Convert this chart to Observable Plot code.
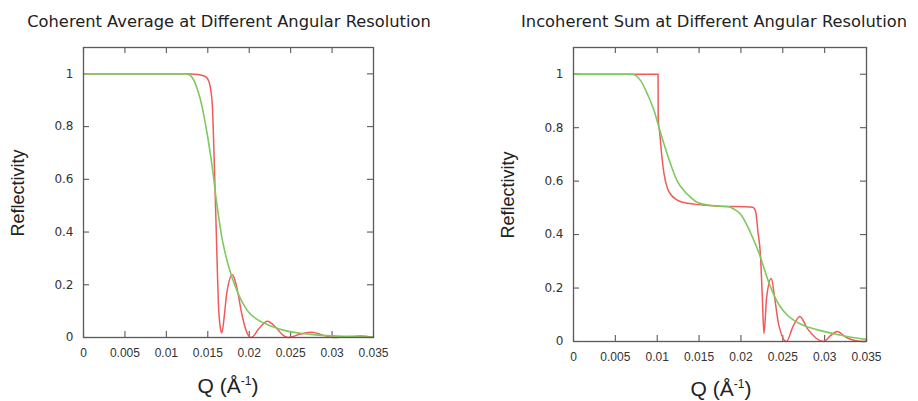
<!DOCTYPE html>
<html>
<head>
<meta charset="utf-8">
<script src="https://cdn.jsdelivr.net/npm/d3@7"></script>
<script src="https://cdn.jsdelivr.net/npm/@observablehq/plot@0.6"></script>
<style>
  html, body { margin: 0; padding: 0; background: #fff; }
  #root { position: relative; width: 918px; height: 401px; background: #fff; overflow: hidden; }
  .panel { position: absolute; top: 0; }
  .title { position: absolute; transform: translate(-50%, -50%); white-space: nowrap;
           font-family: "DejaVu Sans", sans-serif; font-size: 16.3px; color: #222; }
  .ylab { position: absolute; transform: translate(-50%, -50%) rotate(-90deg); white-space: nowrap;
          font-family: "Liberation Sans", Arial, sans-serif; font-size: 18px; color: #222; }
  .xlab { position: absolute; transform: translate(-50%, -50%); white-space: nowrap;
          font-family: "Liberation Sans", Arial, sans-serif; font-size: 21px; color: #222; }
  .xlab sup { font-size: 12px; vertical-align: 8px; }
</style>
</head>
<body>
<div id="root">
  <div class="title" style="left:229px; top:21px;">Coherent Average at Different Angular Resolution</div>
  <div class="title" style="left:714px; top:21px;">Incoherent Sum at Different Angular Resolution</div>
  <div class="ylab" style="left:18px; top:193px;">Reflectivity</div>
  <div class="ylab" style="left:508px; top:195px;">Reflectivity</div>
  <div class="xlab" style="left:228px; top:386px;">Q (Å<sup>-1</sup>)</div>
  <div class="xlab" style="left:721px; top:389px;">Q (Å<sup>-1</sup>)</div>
  <div id="left" class="panel" style="left:0px;"></div>
  <div id="right" class="panel" style="left:459px;"></div>
</div>
<script>
// ---- tick values ----
const xTicks = [0, 0.005, 0.01, 0.015, 0.02, 0.025, 0.03, 0.035];
const yTicks = [0, 0.2, 0.4, 0.6, 0.8, 1];

// ---- Coherent average (left) ----
const cohRedQ = [0, 0.0121, 0.0138, 0.0147, 0.01515, 0.0154, 0.01555, 0.01573, 0.01585, 0.01598, 0.01614, 0.01628, 0.0165, 0.0167, 0.01695, 0.0173, 0.01798, 0.0185, 0.0191, 0.0197, 0.02024, 0.0212, 0.0222, 0.0233, 0.0241, 0.02474, 0.0262, 0.02757, 0.0288, 0.03017, 0.0318, 0.0334, 0.035];
const cohRedR = [1, 1, 0.998, 0.99, 0.97, 0.93, 0.88, 0.72, 0.59, 0.45, 0.27, 0.13, 0.04, 0.017, 0.07, 0.17, 0.238, 0.19, 0.09, 0.02, 0, 0.035, 0.062, 0.035, 0.008, 0, 0.013, 0.02, 0.01, 0, 0.004, 0.006, 0.001];
const cohGreenQ = [0, 0.0125, 0.01333, 0.0137, 0.01413, 0.01454, 0.01494, 0.01534, 0.01573, 0.01593, 0.0163, 0.0167, 0.0171, 0.0177, 0.0183, 0.0189, 0.0195, 0.0201, 0.0211, 0.0221, 0.0231, 0.0241, 0.0262, 0.028, 0.0301, 0.0325, 0.035];
const cohGreenR = [1, 1, 0.975, 0.945, 0.9, 0.84, 0.77, 0.69, 0.6, 0.545, 0.46, 0.38, 0.32, 0.25, 0.195, 0.15, 0.115, 0.09, 0.066, 0.05, 0.038, 0.028, 0.016, 0.01, 0.006, 0.003, 0.002];

// ---- Incoherent sum (right) ----
const incRedQ = [0, 0.0101, 0.01012, 0.0103, 0.0105, 0.0108, 0.0112, 0.0116, 0.0124, 0.0132, 0.0144, 0.0156, 0.0172, 0.0188, 0.0204, 0.0214, 0.02165, 0.0218, 0.022, 0.02235, 0.02255, 0.02275, 0.02307, 0.02363, 0.024, 0.0245, 0.02545, 0.0262, 0.02705, 0.0279, 0.0299, 0.0307, 0.0315, 0.0326, 0.0346, 0.035];
const incRedR = [1, 1, 0.83, 0.78, 0.71, 0.63, 0.575, 0.551, 0.529, 0.52, 0.514, 0.51, 0.506, 0.505, 0.504, 0.502, 0.495, 0.48, 0.42, 0.314, 0.17, 0.03, 0.165, 0.236, 0.17, 0.065, 0, 0.055, 0.094, 0.05, 0, 0.022, 0.037, 0.015, 0, 0.002];
const incGreenQ = [0, 0.007, 0.00804, 0.00884, 0.00963, 0.01022, 0.01082, 0.01161, 0.0124, 0.0132, 0.014, 0.0148, 0.016, 0.0172, 0.0184, 0.0192, 0.01997, 0.02076, 0.02156, 0.02235, 0.0229, 0.0234, 0.024, 0.0247, 0.0255, 0.0263, 0.0275, 0.0287, 0.03, 0.0315, 0.033, 0.035];
const incGreenR = [1, 1, 0.975, 0.925, 0.863, 0.8, 0.738, 0.663, 0.6, 0.564, 0.539, 0.52, 0.511, 0.507, 0.505, 0.495, 0.476, 0.433, 0.377, 0.314, 0.26, 0.215, 0.17, 0.13, 0.1, 0.08, 0.06, 0.048, 0.037, 0.026, 0.017, 0.008];

const RED = "#ef5b5b";
const GREEN = "#7fc95f";
const FRAME = "#5a5a5a";

function pts(qs, rs) { return qs.map((q, i) => ({q, r: rs[i]})); }

function panel({width, height, mt, mb, ml, mr, red, green}) {
  const innerW = width - ml - mr;
  const innerH = height - mt - mb;
  return Plot.plot({
    width, height,
    marginTop: mt, marginBottom: mb, marginLeft: ml, marginRight: mr,
    style: {background: "transparent", fontFamily: "DejaVu Sans, sans-serif", fontSize: "12px", color: "#333"},
    x: {domain: [0, 0.035]},
    y: {domain: [0, 1.1]},
    marks: [
      Plot.ruleX(xTicks, {insetTop: innerH - 6, stroke: FRAME, strokeWidth: 1.1}),
      Plot.ruleX(xTicks, {insetBottom: innerH - 6, stroke: FRAME, strokeWidth: 1.1}),
      Plot.ruleY(yTicks, {insetRight: innerW - 6, stroke: FRAME, strokeWidth: 1.1}),
      Plot.ruleY(yTicks, {insetLeft: innerW - 6, stroke: FRAME, strokeWidth: 1.1}),
      Plot.line(red, {x: "q", y: "r", curve: "monotone-x", stroke: RED, strokeWidth: 1.5}),
      Plot.line(green, {x: "q", y: "r", curve: "monotone-x", stroke: GREEN, strokeWidth: 1.6}),
      Plot.frame({stroke: FRAME, strokeWidth: 1.3}),
      Plot.axisX({ticks: xTicks, tickFormat: d => String(d), tickSize: 0, tickPadding: 11, label: null,
                  fontFamily: "Liberation Sans, Arial, sans-serif", fontSize: 12, fill: "#333"}),
      Plot.axisY({ticks: yTicks, tickFormat: d => String(d), tickSize: 0, tickPadding: 10, label: null,
                  fontFamily: "DejaVu Sans, sans-serif", fontSize: 12, fill: "#333"})
    ]
  });
}

document.getElementById("left").append(panel({
  width: 459, height: 401, mt: 47, mb: 64, ml: 83, mr: 86,
  red: pts(cohRedQ, cohRedR), green: pts(cohGreenQ, cohGreenR)
}));
document.getElementById("right").append(panel({
  width: 459, height: 401, mt: 47, mb: 60, ml: 114, mr: 52,
  red: pts(incRedQ, incRedR), green: pts(incGreenQ, incGreenR)
}));
</script>
</body>
</html>
